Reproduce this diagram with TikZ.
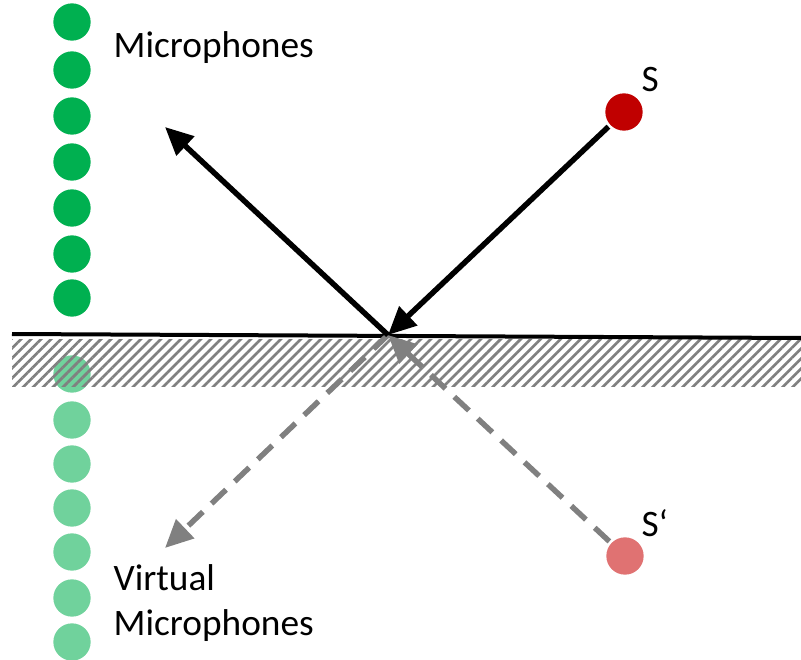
\documentclass[tikz,border=0pt]{standalone}
\usepackage{fontspec}
\setmainfont{Carlito}
\usepackage{tikz}
\usetikzlibrary{arrows.meta,patterns.meta}
\usepackage{xcolor}
\definecolor{micgreen}{HTML}{00B050}
\definecolor{vmicgreen}{HTML}{70D29C}
\definecolor{srcred}{HTML}{C00000}
\definecolor{vsrcred}{HTML}{E07272}
\newcommand{\raygrey}{black!50}

\begin{document}
\begin{tikzpicture}[x=0.75pt,y=-0.75pt,>={Triangle[length=21pt,width=19pt]},line width=4.1pt,
    font=\fontsize{28}{34}\selectfont]
    \tikzstyle{mic}=[circle,fill=micgreen,minimum size=28pt,inner sep=0pt]
    \tikzstyle{vmic}=[circle,fill=vmicgreen,minimum size=28pt,inner sep=0pt]
    \tikzset{ray/.style={->,black},virtual ray/.style={->,\raygrey,dash pattern=on 15pt off 9pt}}
    \useasboundingbox (0,0) rectangle (801,660);
    % microphones and their mirror images
    \foreach \i/\y in {1/22,2/70,3/116,4/162,5/208,6/254,7/298}
      \node[mic] (mic\i) at (72,\y) {};
    \foreach \i/\y in {1/374,2/420,3/464,4/508,5/552,6/598,7/642}
      \node[vmic] (vmic\i) at (72,\y) {};
    % wall
    \fill[pattern={Lines[angle=45,distance=5.3pt,line width=2pt]},pattern color=black!50]
      (12,339) rectangle (801,386);
    \coordinate (wallL) at (12,334);
    \coordinate (wallR) at (801,338);
    \draw[line width=3pt] (wallL) -- (wallR);
    % sources
    \node[circle,fill=srcred,minimum size=28pt,inner sep=0pt] (src) at (624,112) {};
    \node[circle,fill=vsrcred,minimum size=28pt,inner sep=0pt] (vsrc) at (625,556) {};
    \node[anchor=west,inner sep=0pt] (srclabel) at (639,80) {S};
    \node[anchor=west,inner sep=0pt] (vsrclabel) at (639,523) {S‘};
    \coordinate (refl) at (388,335);
    \coordinate (out) at (165,127);
    \coordinate (vout) at (165,548);
    \path (vsrc) edge[virtual ray] (refl);
    \path (refl) edge[virtual ray] (vout);
    \path (src) edge[ray] (refl);
    \path (refl) edge[ray] (out);
    % labels
    \node[anchor=west,inner sep=0pt] (miclabel) at (111,48) {Microphones};
    \node[anchor=west,inner sep=0pt,align=left] (vmiclabel) at (111,603) {Virtual\\Microphones};
\end{tikzpicture}
\end{document}
